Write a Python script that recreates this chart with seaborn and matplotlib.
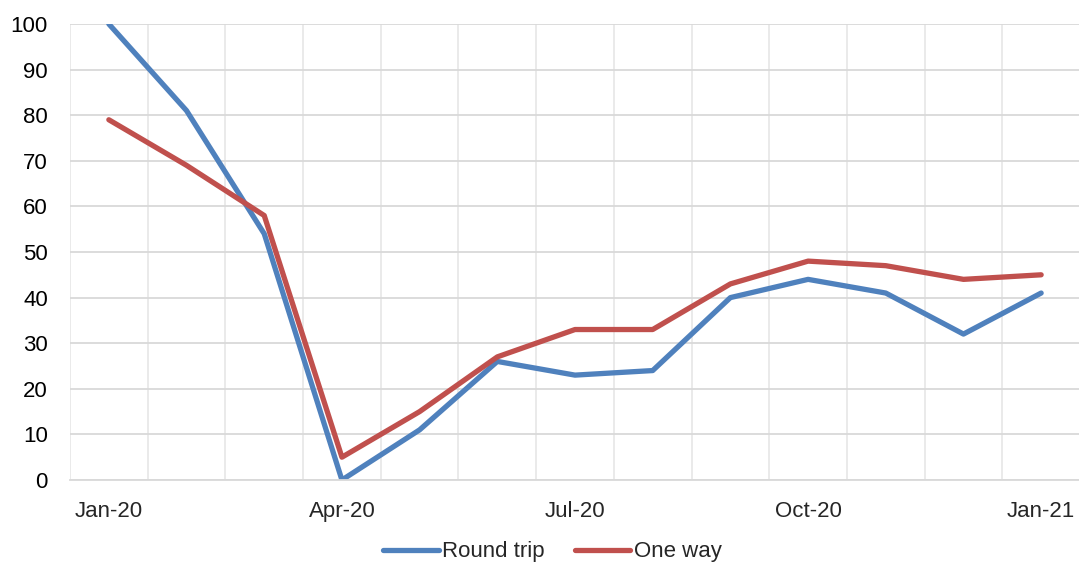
import numpy as np
import pandas as pd
import matplotlib
matplotlib.use("Agg")
import matplotlib.pyplot as plt
import seaborn as sns

months = ["Jan-20", "Feb-20", "Mar-20", "Apr-20", "May-20", "Jun-20", "Jul-20",
          "Aug-20", "Sep-20", "Oct-20", "Nov-20", "Dec-20", "Jan-21"]
round_trip = [100, 81, 54, 0, 11, 26, 23, 24, 40, 44, 41, 32, 41]
one_way = [79, 69, 58, 5, 15, 27, 33, 33, 43, 48, 47, 44, 45]
series_names = ["Round trip", "One way"]
colors = ["#4F81BD", "#C0504D"]

sns.set_style("white")
plt.rcParams["font.family"] = ["Liberation Sans", "DejaVu Sans"]

x = np.arange(len(months))
df = pd.DataFrame({
    "x": np.concatenate([x, x]),
    "value": round_trip + one_way,
    "series": [series_names[0]] * len(x) + [series_names[1]] * len(x),
})

fig = plt.figure(figsize=(10.79, 5.71), dpi=100)
ax = fig.add_axes([70 / 1079, 1 - 480 / 571, 1010 / 1079, 456 / 571])

sns.lineplot(data=df, x="x", y="value", hue="series", palette=colors,
             linewidth=3.8, ax=ax, legend=True)

ax.set_xlim(-0.5, len(months) - 0.5)
ax.set_ylim(0, 100)
ax.set_yticks(range(0, 101, 10))
ax.set_xticks(x[::3])
ax.set_xticklabels(months[::3])
ax.set_xticks(np.arange(len(months) + 1) - 0.5, minor=True)
ax.set_xlabel("")
ax.set_ylabel("")

ax.grid(True, axis="y", color="#d9d9d9", linewidth=1.3)
ax.grid(True, axis="x", which="minor", color="#e8e8e8", linewidth=1.3)
ax.set_axisbelow(True)

for s in ["top", "right", "left"]:
    ax.spines[s].set_visible(False)
ax.spines["bottom"].set_color("#d9d9d9")
ax.spines["bottom"].set_linewidth(1.3)

ax.tick_params(axis="y", length=0, pad=16, labelsize=16, colors="black")
ax.tick_params(axis="x", which="major", length=0, pad=15, labelsize=16)
ax.tick_params(axis="x", which="minor", length=6, width=1.3, color="#d9d9d9")
for i, t in enumerate(ax.xaxis.get_minor_ticks()):
    if i % 3 != 0:
        t.tick1line.set_markersize(0)

handles, labels = ax.get_legend_handles_labels()
ax.get_legend().remove()
fig.legend(handles, labels, loc="lower center", bbox_to_anchor=(0.512, -0.012),
           ncol=2, frameon=False, fontsize=16, handlelength=2.5,
           handletextpad=0.15, columnspacing=1.35, borderpad=0.2)

fig.savefig("out.png", dpi=100)
